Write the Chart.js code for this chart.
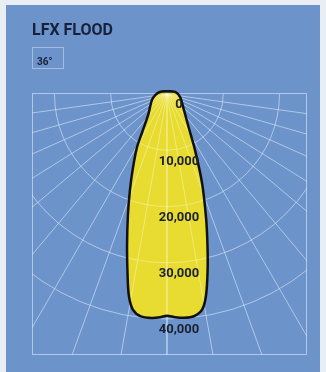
<!DOCTYPE html>
<html>
<head>
<meta charset="utf-8">
<script src="https://cdn.jsdelivr.net/npm/chart.js@4.4.0/dist/chart.umd.min.js"></script>
<style>
  html, body { margin: 0; padding: 0; background: #e9eef5; }
  #wrap { width: 326px; height: 372px; position: relative; }
</style>
</head>
<body>
<div id="wrap"><canvas id="flood" width="326" height="372"></canvas></div>
<script>
// beam angle from straight down (deg, + = right) and intensity in candela
const angles = [-180, -106, -85, -68, -42, -33, -29.5, -24.7, -21.1, -17.9, -14.8, -12.3, -10.7, -9, -6.7, -3.8,
  -1.8, 0, 2.1, 4.3, 6.9, 9.3, 11, 13, 15, 17.5, 21.5, 26.6, 34, 51, 77, 104];
const candela = [500, 1300, 2100, 2900, 5000, 8100, 10800, 14500, 18300, 22600, 27800, 32900, 36500, 38800, 39800, 39900,
  39700, 39400, 39700, 39900, 39800, 38800, 36400, 32100, 27800, 23100, 17000, 11100, 6700, 3700, 2400, 1500];

const tickValues = [0, 10000, 20000, 30000, 40000];
const tickLabels = ['0', '10,000', '20,000', '30,000', '40,000'];
const ringValues = [10000, 20000, 30000, 40000];
const spokeAngles = [0, 10, 20, 30, 40, 50, 58, 66, 74, 82];

const title = 'LFX FLOOD';
const beamLabel = '36°';

// polar -> x/y (y axis is reversed so positive goes down)
const rad = a => a * Math.PI / 180;
const points = angles.map((a, i) => ({ x: candela[i] * Math.sin(rad(a)), y: candela[i] * Math.cos(rad(a)) }));
points.push(points[0]);

function drawGrid(chart, color) {
  const { ctx, chartArea, scales } = chart;
  const ox = scales.x.getPixelForValue(0);
  const oy = scales.y.getPixelForValue(0);
  ctx.save();
  ctx.beginPath();
  ctx.rect(chartArea.left, chartArea.top, chartArea.right - chartArea.left, chartArea.bottom - chartArea.top);
  ctx.clip();
  ctx.strokeStyle = color;
  ctx.lineWidth = 1;
  spokeAngles.forEach(a => {
    [a, -a].forEach(b => {
      ctx.beginPath();
      ctx.moveTo(ox, oy);
      ctx.lineTo(ox + 600 * Math.sin(rad(b)), oy + 600 * Math.cos(rad(b)));
      ctx.stroke();
    });
  });
  ringValues.forEach(v => {
    const r = scales.y.getPixelForValue(v) - oy;
    ctx.beginPath();
    ctx.arc(ox, oy, r, 0, Math.PI);
    ctx.stroke();
  });
  ctx.restore();
}

const polarGrid = {
  id: 'polarGrid',
  beforeDraw(chart) {
    const { ctx, width, height, chartArea } = chart;
    ctx.save();
    ctx.fillStyle = '#e9eef5';
    ctx.fillRect(0, 0, width, height);
    ctx.fillStyle = '#6c93ca';
    ctx.fillRect(6, 5, 314, 367);
    ctx.strokeStyle = 'rgba(222,234,252,0.6)';
    ctx.strokeRect(chartArea.left + 0.5, chartArea.top + 0.5, chartArea.right - chartArea.left - 1, chartArea.bottom - chartArea.top - 1);

    ctx.fillStyle = '#19203a';
    ctx.font = '700 16px Roboto';
    ctx.textBaseline = 'alphabetic';
    ctx.fillText(title, 32, 35);
    ctx.strokeStyle = '#a9bbdc';
    ctx.strokeRect(32.5, 47.5, 31, 21);
    ctx.font = '700 10px Roboto';
    ctx.fillText(beamLabel, 37, 65);
    ctx.restore();
  },
  beforeDatasetsDraw(chart) {
    drawGrid(chart, 'rgba(222,234,252,0.6)');
  },
  beforeDatasetDraw(chart, args) {
    // faint grid showing through the yellow beam
    const { ctx } = chart;
    ctx.save();
    ctx.beginPath();
    args.meta.dataset.path(ctx);
    ctx.clip();
    drawGrid(chart, 'rgba(255,255,235,0.4)');
    ctx.restore();
  },
  afterDatasetsDraw(chart) {
    const { ctx, scales } = chart;
    const ox = scales.x.getPixelForValue(0);
    ctx.save();
    ctx.fillStyle = '#1a2030';
    ctx.font = '700 13px Roboto';
    ctx.textAlign = 'center';
    ctx.textBaseline = 'middle';
    tickValues.forEach((v, i) => {
      ctx.fillText(tickLabels[i], ox + 12, scales.y.getPixelForValue(v) + 11);
    });
    ctx.restore();
  }
};

new Chart(document.getElementById('flood').getContext('2d'), {
  type: 'scatter',
  data: {
    datasets: [{
      label: title,
      data: points,
      showLine: true,
      fill: 'shape',
      backgroundColor: '#e8dc30',
      borderColor: '#111111',
      borderWidth: 2.5,
      pointRadius: 0,
      tension: 0.3,
      clip: false
    }]
  },
  options: {
    responsive: false,
    animation: false,
    layout: { padding: { left: 32, right: 19, top: 93, bottom: 17 } },
    elements: { line: { capBezierPoints: false } },
    scales: {
      x: { type: 'linear', display: false, min: -24000, max: 24890 },
      y: { type: 'linear', display: false, reverse: true, min: -180, max: 46400 }
    },
    plugins: {
      legend: { display: false },
      tooltip: { enabled: false },
      title: { display: false }
    }
  },
  plugins: [polarGrid]
});
</script>
</body>
</html>
